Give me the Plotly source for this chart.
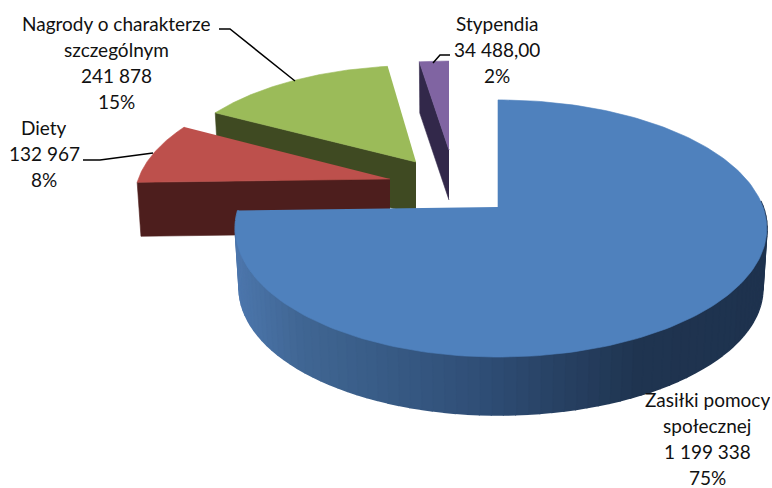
import numpy as np
import plotly.graph_objects as go

# --- data ---
categories = ["Zasiłki pomocy społecznej", "Diety", "Nagrody o charakterze szczególnym", "Stypendia"]
values = [1199338, 132967, 241878, 34488]
value_labels = ["1 199 338", "132 967", "241 878", "34 488,00"]
percent_labels = ["75%", "8%", "15%", "2%"]
name_lines = [["Zasiłki pomocy", "społecznej"], ["Diety"], ["Nagrody o charakterze", "szczególnym"], ["Stypendia"]]

# --- styling / projection of the disc ---
top_colors = ["#4f81bd", "#bd504c", "#9bbb59", "#8064a2"]
wall_colors = [None, "#4d1e1d", "#3f4a22", "#32284a"]
apex_x = [498, 390, 416, 449]
apex_y = [207, 179, 162, 150]
scales = [1.0, 0.95, 0.90, 0.83]
left_stretch = [0.977, 1.0, 1.03, 1.17]
depths = [60, 54, 52, 50]
draw_order = [3, 2, 1, 0]
label_x = [707, 44, 116, 497]
label_y = [398.5, 127, 23, 23]
LINE_GAP = 26.0
A, B, K = 265, 125, 0.167
leaders = [None, ([83, 100, 153], [160, 160, 153]),
           ([219, 230, 295], [29, 29, 81]), ([433, 440, 450], [63, 55, 55])]

total = sum(values)
ends = np.cumsum(values) / total * 2 * np.pi
starts = np.concatenate([[0], ends[:-1]])


def proj(theta, i, lower=False):
    u, v = np.sin(theta), np.cos(theta)
    s = scales[i] * (0.985 if lower else 1.0)
    d = 1 + K * v
    sx = np.where(u < 0, left_stretch[i], 1.0)
    return (apex_x[i] + s * sx * A * u / d,
            apex_y[i] + (depths[i] if lower else 0) - s * B * v / d)


def wall_gradient(x):
    stops_x = [235, 300, 480, 640, 770]
    r = np.interp(x, stops_x, [76, 64, 47, 31, 30])
    g = np.interp(x, stops_x, [118, 102, 78, 52, 50])
    b = np.interp(x, stops_x, [172, 147, 118, 80, 78])
    return f"rgb({r:.0f},{g:.0f},{b:.0f})"


fig = go.Figure()


def poly(xs, ys, color, width=0.6):
    fig.add_trace(go.Scatter(x=list(xs), y=list(ys), mode="lines", fill="toself",
                             fillcolor=color, line=dict(color=color, width=width),
                             hoverinfo="skip", showlegend=False))


for i in draw_order:
    t = np.linspace(starts[i], ends[i], 200)
    tx, ty = proj(t, i)
    if i == 0:
        # outer rim of the big slice, shaded in narrow strips
        edges = np.linspace(starts[0], ends[0], 121)
        for a, b in zip(edges[:-1], edges[1:]):
            tt = np.linspace(a, b, 4)
            x1, y1 = proj(tt, 0)
            x2, y2 = proj(tt, 0, lower=True)
            if np.mean(np.cos(tt)) < 0.05:
                poly(np.concatenate([x1, x2[::-1]]), np.concatenate([y1, y2[::-1]]),
                     wall_gradient(float(np.mean(x1))), width=2)
    else:
        # radial cut face that looks towards the viewer
        edge = starts[i]
        x1, y1 = proj(np.array([edge]), i)
        x2, y2 = proj(np.array([edge]), i, lower=True)
        poly([apex_x[i], x1[0], x2[0], apex_x[i]],
             [apex_y[i], y1[0], y2[0], apex_y[i] + depths[i]], wall_colors[i])
    poly(np.concatenate([[apex_x[i]], tx]), np.concatenate([[apex_y[i]], ty]), top_colors[i])

for seg in leaders:
    if seg:
        fig.add_trace(go.Scatter(x=seg[0], y=seg[1], mode="lines",
                                 line=dict(color="black", width=1.5),
                                 hoverinfo="skip", showlegend=False))

for i in range(len(categories)):
    lines = name_lines[i] + [value_labels[i], percent_labels[i]]
    for j, line in enumerate(lines):
        fig.add_annotation(x=label_x[i], y=label_y[i] + j * LINE_GAP, text=line, showarrow=False,
                           xanchor="center", yanchor="middle", height=22,
                           font=dict(family="Lato", size=19, color="#111111"))

fig.update_xaxes(visible=False, range=[0, 772], fixedrange=True)
fig.update_yaxes(visible=False, range=[488, 0], fixedrange=True)
fig.update_layout(width=772, height=488, margin=dict(l=0, r=0, t=0, b=0),
                  paper_bgcolor="white", plot_bgcolor="white", showlegend=False)
fig.write_html("out.html", config={"displayModeBar": False},
               post_script="document.body.style.margin='0';document.body.style.overflow='hidden';")
